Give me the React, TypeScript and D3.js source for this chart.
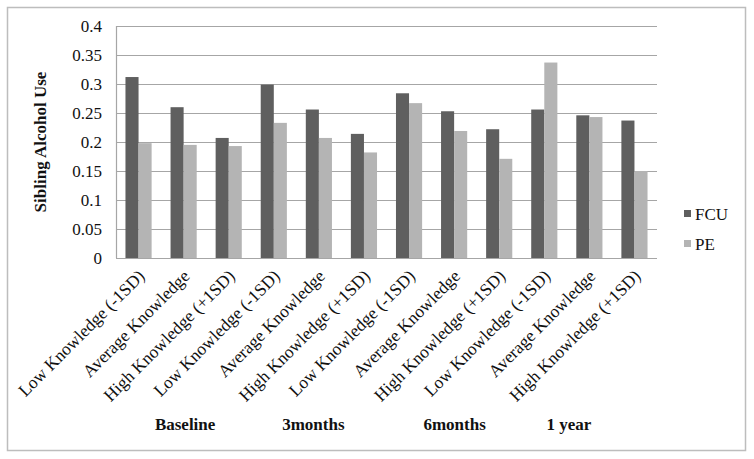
import React from "react";
import * as d3 from "d3";

const categories = [
  "Low Knowledge (-1SD)", "Average Knowledge", "High Knowledge (+1SD)",
  "Low Knowledge (-1SD)", "Average Knowledge", "High Knowledge (+1SD)",
  "Low Knowledge (-1SD)", "Average Knowledge", "High Knowledge (+1SD)",
  "Low Knowledge (-1SD)", "Average Knowledge", "High Knowledge (+1SD)",
];
const fcu = [0.312, 0.26, 0.207, 0.299, 0.256, 0.214, 0.284, 0.253, 0.222, 0.256, 0.246, 0.237];
const pe = [0.198, 0.195, 0.193, 0.233, 0.207, 0.182, 0.267, 0.219, 0.171, 0.337, 0.243, 0.150];
const groups = ["Baseline", "3months", "6months", "1 year"];
const groupShift = [1.5, -5.5, 0.5, -20.5];
const yTicks = [0, 0.05, 0.1, 0.15, 0.2, 0.25, 0.3, 0.35, 0.4];
const seriesNames = ["FCU", "PE"];
const colors = ["#5f5f5f", "#b4b4b4"];

const W = 754;
const H = 459;
const left = 116;
const right = 657;
const top = 26;
const bottom = 258;
const font = "Liberation Serif, Times New Roman, serif";

export default function App() {
  const idx = categories.map((_, i) => String(i));
  const x = d3.scaleBand().domain(idx).range([left, right]).paddingInner(0.42).paddingOuter(0.21);
  const y = d3.scaleLinear().domain([0, 0.4]).range([bottom, top]);
  const bw = x.bandwidth() / 2;
  const step = x.step();
  const center = (i: number) => (x(String(i)) as number) + x.bandwidth() / 2;

  return (
    <svg width={W} height={H} style={{ position: "absolute", left: 0, top: 0, fontFamily: font }}>
      <rect x={0} y={0} width={W} height={H} fill="#fff" />
      <rect x={7.5} y={7.5} width={738} height={443} fill="none" stroke="#bdbdbd" strokeWidth={1.5} />
      {yTicks.map((t) => (
        <g key={t}>
          <line x1={left} x2={right} y1={Math.round(y(t)) + 0.5} y2={Math.round(y(t)) + 0.5} stroke="#a6a6a6" strokeWidth={1.2} />
          <text x={102} y={y(t)} dy="0.35em" textAnchor="end" fontSize={17} fill="#111">
            {String(t)}
          </text>
        </g>
      ))}
      <line x1={left + 0.5} x2={left + 0.5} y1={top} y2={bottom} stroke="#a6a6a6" strokeWidth={1.2} />
      {fcu.map((v, i) => (
        <rect key={"f" + i} x={x(String(i))} y={y(v)} width={bw} height={y(0) - y(v)} fill={colors[0]} />
      ))}
      {pe.map((v, i) => (
        <rect key={"p" + i} x={(x(String(i)) as number) + bw} y={y(v)} width={bw} height={y(0) - y(v)} fill={colors[1]} />
      ))}
      {categories.map((c, i) => (
        <text
          key={"c" + i}
          transform={`translate(${center(i) + 1},${bottom + 13}) rotate(-45)`}
          textAnchor="end"
          fontSize={17.5}
          fill="#111"
          dy="0.5em"
        >
          {c}
        </text>
      ))}
      {groups.map((g, gi) => (
        <text
          key={g}
          x={left + step * (gi * 3 + 1.5) + groupShift[gi]}
          y={424}
          dy="0.35em"
          textAnchor="middle"
          fontSize={17}
          fontWeight="bold"
          fill="#111"
        >
          {g}
        </text>
      ))}
      <text
        transform={`translate(40,${(top + bottom) / 2}) rotate(-90)`}
        textAnchor="middle"
        dy="0.35em"
        fontSize={17}
        fontWeight="bold"
        fill="#111"
      >
        Sibling Alcohol Use
      </text>
      {seriesNames.map((s, i) => (
        <g key={s}>
          <rect x={684} y={210 + i * 30} width={7} height={7} fill={colors[i]} />
          <text x={695} y={214 + i * 30} dy="0.35em" fontSize={17} fill="#111">
            {s}
          </text>
        </g>
      ))}
    </svg>
  );
}
